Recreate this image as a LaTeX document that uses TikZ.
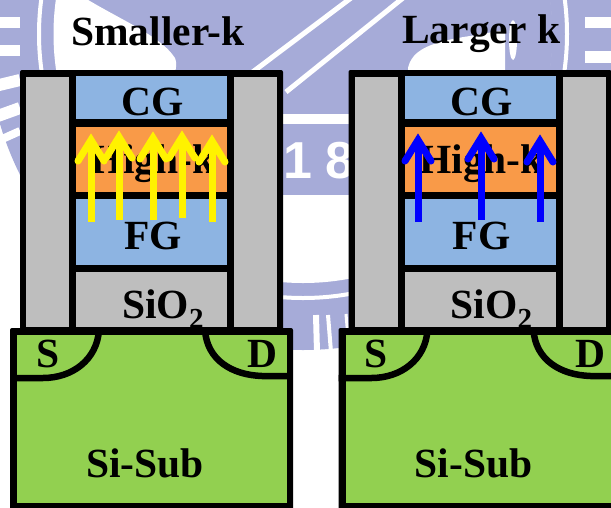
\documentclass[tikz,border=0pt]{standalone}
\usepackage{fontspec}
\setmainfont{Liberation Serif}
\newfontfamily\wmfont{Liberation Sans}
\definecolor{wmark}{HTML}{A6ABD8}
\definecolor{gatecol}{HTML}{8DB4E2}
\definecolor{hikcol}{HTML}{F99A48}
\definecolor{subcol}{HTML}{92D050}
\definecolor{oxcol}{HTML}{BEBEBE}
\tikzset{
  wmstripe/.style={draw=white,line width=#1},
  lbl/.style={anchor=base,inner sep=0pt,font=\fontsize{41.5}{44}\selectfont\bfseries,text=black},
  field/.style={line width=7pt,line cap=butt,#1},
  junction/.style={draw=black,line width=6.5pt,line cap=butt}
}
\newcommand{\mosdevice}[2]{%
\begin{scope}[xshift=#1pt,name prefix=#2-]
  \fill[black,rounded corners=2pt] (20,70) rectangle (283,335);
  \fill[oxcol] (26,77) rectangle (69,327);
  \fill[oxcol] (234,77) rectangle (277,327);
  \fill[gatecol] (76,76) rectangle (227,119);
  \fill[hikcol] (76,127) rectangle (227,192);
  \fill[gatecol] (76,199) rectangle (227,265);
  \fill[oxcol] (76,272) rectangle (227,327);
  \fill[black,rounded corners=2pt] (10,328) rectangle (293,515);
  \fill[subcol] (17,335) rectangle (287,503);
  \draw[junction] (99,330) .. controls (97,360) and (72,378) .. (43,378) -- (10,378);
  \draw[junction] (205,330) .. controls (207,360) and (232,375) .. (262,376) -- (287,376);
  \node[lbl] (cg) at (153,115) {CG};
  \node[lbl] (hk) at (153,173) {High-k};
  \node[lbl] (fg) at (153,249) {FG};
  \node[lbl,anchor=base west] (ox) at (122,318) {SiO\textsubscript{2}};
  \node[lbl] (s) at (48,367) {S};
  \node[lbl] (d) at (262,367) {D};
  \node[lbl] (sub) at (145,477) {Si-Sub};
\end{scope}}
\newcommand{\fieldarrow}[4]{%
  \draw[field=#1] (#2,#3) -- (#2,#4+8);
  \draw[field=#1,line join=miter,miter limit=10] (#2-13,#4+28) -- (#2,#4+7) -- (#2+13,#4+28);
  \fill[#1] (#2-13,#4+28) circle (3.5);
  \fill[#1] (#2+13,#4+28) circle (3.5);}
\begin{document}
\begin{tikzpicture}[x=1pt,y=-1pt]
\useasboundingbox (0,0) rectangle (611,507);
\clip (0,0) rectangle (611,507);
\fill[white] (0,0) rectangle (611,507);
% watermark
\fill[wmark] (303,34) circle (316);
\draw[wmstripe=4pt] (303,34) circle (264);
\fill[white] (303,34) circle (249);
\begin{scope}
  \clip (303,34) circle (249.5);
  \fill[wmark] (0,-5) rectangle (611,195);
  \fill[white] (40,-5) -- (80,-5) .. controls (120,20) and (160,35) .. (175,58)
     .. controls (178,66) and (175,72) .. (170,90) -- (40,90) -- cycle;
  \fill[white] (408,90) -- (408,68) .. controls (412,50) and (430,42) .. (470,36)
     -- (505,30) -- (505,90) -- cycle;
  \fill[white] (513,40) ellipse (4 and 20);
\end{scope}
\draw[wmstripe=5pt] (351,-2) -- (242,80);
\draw[wmstripe=5pt] (403,-2) -- (286,92);
\fill[white] (230,114) rectangle (400,124);
\node[anchor=base,inner sep=0pt,text=white,font=\wmfont\fontsize{52}{56}\selectfont\bfseries] (wm1) at (298,178) {1};
\node[anchor=base,inner sep=0pt,text=white,font=\wmfont\fontsize{52}{56}\selectfont\bfseries] (wm8) at (340,178) {8};
\draw[wmstripe=11pt] (-5,22) -- (20,22);
\draw[wmstripe=11pt] (-5,50) -- (20,50);
\draw[wmstripe=12pt] (-5,86) -- (20,80);
\draw[wmstripe=12pt] (-5,117) -- (20,108);
\draw[wmstripe=8pt] (0,140) -- (20,131);
\draw[wmstripe=11pt] (585,22) -- (616,22);
\draw[wmstripe=12pt] (585,57) -- (616,57);
\draw[wmstripe=6pt] (316,315) -- (317,352);
\draw[wmstripe=4pt] (328,315) -- (331,352);
\draw[wmstripe=3pt] (346,314) -- (349,350);
% devices
\mosdevice{0}{a}
\mosdevice{328.5}{b}
% titles
\node[lbl,font=\fontsize{41.5}{44}\selectfont\bfseries,anchor=base west] (t1) at (71,45) {Smaller-k};
\node[lbl,font=\fontsize{41.5}{44}\selectfont\bfseries,anchor=base west] (t2) at (402,43) {Larger k};
% field arrows
\fieldarrow{yellow}{91}{222}{133}
\fieldarrow{yellow}{119}{220}{130}
\fieldarrow{yellow}{153}{220}{131}
\fieldarrow{yellow}{182}{218}{130}
\fieldarrow{yellow}{212}{222}{134}
\fieldarrow{blue}{418}{222}{133}
\fieldarrow{blue}{481}{220}{131}
\fieldarrow{blue}{540}{222}{134}
\end{tikzpicture}
\end{document}
